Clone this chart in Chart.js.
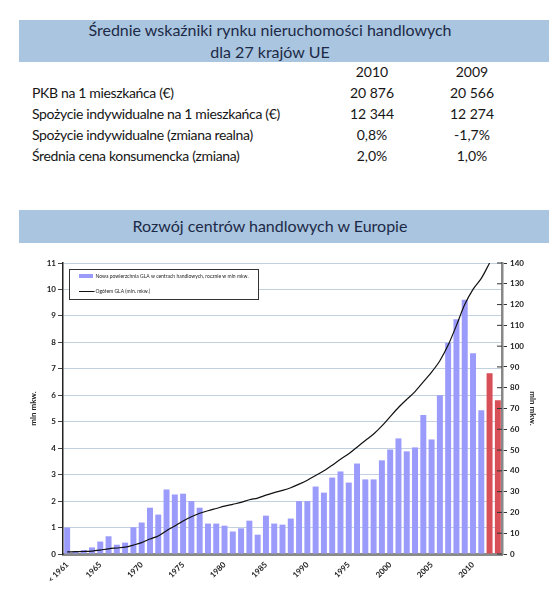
<!DOCTYPE html>
<html lang="pl">
<head>
<meta charset="utf-8">
<script src="https://cdn.jsdelivr.net/npm/chart.js@4/dist/chart.umd.min.js"></script>
<style>
  body { margin: 0; width: 549px; height: 595px; background: #fff; font-family: Lato, "Open Sans", sans-serif; position: relative; overflow: hidden; }
  .band { position: absolute; left: 19px; width: 530px; background: #a9c5df; }
  .band-title { position: absolute; left: 19px; width: 502px; text-align: center; color: #1d2a47; font-size: 16px; line-height: 21.6px; }
  .row { position: absolute; left: 32px; width: 517px; height: 21px; font-size: 14px; line-height: 21px; color: #161616; }
  .row span { position: absolute; }
  .row .lbl { left: 0; letter-spacing: -0.35px; white-space: nowrap; }
  .c1 { left: 300px; width: 80px; text-align: center; }
  .c2 { left: 400px; width: 80px; text-align: center; }
  #chart-box { position: absolute; left: 0; top: 250px; width: 549px; height: 345px; }
</style>
</head>
<body>
<div class="band" style="top:20px;height:42px"></div>
<div class="band-title" style="top:19px">Średnie wskaźniki rynku nieruchomości handlowych<br>dla 27 krajów UE</div>

<div class="row" style="top:61px"><span class="c1">2010</span><span class="c2">2009</span></div>
<div class="row" style="top:82px"><span class="lbl">PKB na 1 mieszkańca (€)</span><span class="c1">20 876</span><span class="c2">20 566</span></div>
<div class="row" style="top:103px"><span class="lbl">Spożycie indywidualne na 1 mieszkańca (€)</span><span class="c1">12 344</span><span class="c2">12 274</span></div>
<div class="row" style="top:124px"><span class="lbl">Spożycie indywidualne (zmiana realna)</span><span class="c1">0,8%</span><span class="c2">-1,7%</span></div>
<div class="row" style="top:145px"><span class="lbl">Średnia cena konsumencka (zmiana)</span><span class="c1">2,0%</span><span class="c2">1,0%</span></div>

<div class="band" style="top:210px;height:33px"></div>
<div class="band-title" style="top:215px">Rozwój centrów handlowych w Europie</div>

<div id="chart-box"><canvas id="glaChart"></canvas></div>

<script>
// Data
const years = ['< 1961', '1962', '1963', '1964', '1965', '1966', '1967', '1968', '1969', '1970',
  '1971', '1972', '1973', '1974', '1975', '1976', '1977', '1978', '1979', '1980',
  '1981', '1982', '1983', '1984', '1985', '1986', '1987', '1988', '1989', '1990',
  '1991', '1992', '1993', '1994', '1995', '1996', '1997', '1998', '1999', '2000',
  '2001', '2002', '2003', '2004', '2005', '2006', '2007', '2008', '2009', '2010',
  '2011', '2012', '2013'];
const shownYears = ['< 1961', '1965', '1970', '1975', '1980', '1985', '1990', '1995', '2000', '2005', '2010'];
const forecastYears = ['2012', '2013'];

// new GLA per year, mln sqm (left axis)
const newGla = [1.0, 0.1, 0.15, 0.25, 0.47, 0.67, 0.35, 0.43, 1.01, 1.19,
  1.75, 1.49, 2.44, 2.25, 2.28, 2.0, 1.75, 1.15, 1.15, 1.07,
  0.85, 0.97, 1.26, 0.73, 1.45, 1.15, 1.11, 1.34, 2.0, 2.0,
  2.55, 2.32, 2.89, 3.12, 2.7, 3.42, 2.82, 2.82, 3.54, 3.95,
  4.37, 3.88, 4.03, 5.25, 4.33, 6.0, 7.99, 8.87, 9.61, 7.59,
  5.43, 6.83, 5.81];

// total GLA, mln sqm (right axis)
const totalGla = [1.0, 1.1, 1.2, 1.4, 1.9, 2.5, 2.9, 3.3, 4.3, 5.5,
  7.2, 8.7, 11.2, 13.5, 15.9, 17.9, 19.6, 20.8, 21.9, 23.0,
  23.9, 24.8, 26.1, 26.9, 28.3, 29.5, 30.6, 31.9, 33.6, 35.5,
  37.8, 40.0, 42.7, 45.6, 48.2, 51.4, 54.6, 57.7, 61.6, 66.1,
  70.5, 74.4, 78.1, 82.8, 87.5, 93.0, 100.5, 110.0, 120.0, 127.3,
  132.6, 140.0, null];

const legendLabels = ['Nowa powierzchnia GLA w centrach handlowych, rocznie w mln mkw.', 'Ogółem GLA (mln. mkw.)'];

const barColor = '#9b9bfb';
const forecastColor = '#d84f57';
const tickFont = { family: 'Lato', size: 8, weight: 'bold' };

// Legend box inside the plot + inner half of right axis ticks
const extrasPlugin = {
  id: 'extras',
  afterDraw(chart) {
    const ctx = chart.ctx;
    const area = chart.chartArea;
    const x = area.left + 6.5, y = area.top + 6.5;
    ctx.save();
    ctx.fillStyle = '#fff';
    ctx.fillRect(x, y, 189, 30);
    ctx.strokeStyle = '#333';
    ctx.lineWidth = 1;
    ctx.strokeRect(x, y, 189, 30);
    ctx.fillStyle = barColor;
    ctx.fillRect(x + 9.5, y + 4.5, 14, 4);
    ctx.strokeStyle = '#111';
    ctx.beginPath();
    ctx.moveTo(x + 9.5, y + 22);
    ctx.lineTo(x + 25, y + 22);
    ctx.stroke();
    ctx.fillStyle = '#222';
    ctx.font = '5px Lato';
    ctx.textBaseline = 'middle';
    ctx.fillText(legendLabels[0], x + 26, y + 6.5);
    ctx.fillText(legendLabels[1], x + 26, y + 22);

    const right = chart.scales.y1;
    ctx.strokeStyle = '#333';
    right.ticks.forEach(t => {
      const py = right.getPixelForValue(t.value);
      ctx.beginPath();
      ctx.moveTo(right.left - 5, py);
      ctx.lineTo(right.left, py);
      ctx.stroke();
    });
    ctx.restore();
  }
};

const ctx = document.getElementById('glaChart').getContext('2d');
new Chart(ctx, {
  data: {
    labels: years,
    datasets: [
      {
        type: 'line',
        data: totalGla,
        yAxisID: 'y1',
        borderColor: '#111',
        borderWidth: 1.2,
        pointRadius: 0,
        tension: 0.3,
        order: 0
      },
      {
        type: 'bar',
        data: newGla,
        yAxisID: 'y',
        backgroundColor: c => forecastYears.includes(years[c.dataIndex]) ? forecastColor : barColor,
        barPercentage: 0.72,
        categoryPercentage: 1,
        order: 1
      }
    ]
  },
  options: {
    responsive: true,
    maintainAspectRatio: false,
    animation: false,
    layout: { padding: { top: 13, left: 25, right: 8, bottom: 0 } },
    plugins: { legend: { display: false }, tooltip: { enabled: false } },
    scales: {
      x: {
        offset: true,
        grid: { display: false, drawTicks: false },
        border: { color: '#8a8a8a', width: 3 },
        ticks: {
          autoSkip: false,
          maxRotation: 45,
          minRotation: 45,
          padding: 6,
          color: '#222',
          font: tickFont,
          callback: (v, i) => shownYears.includes(years[i]) ? years[i] : ''
        },
        afterFit: s => { s.height = 41; }
      },
      y: {
        position: 'left',
        min: 0,
        max: 11,
        ticks: { stepSize: 1, color: '#222', font: tickFont, padding: 2 },
        grid: { color: '#c3d1df', tickLength: 5, tickColor: '#444' },
        border: { color: '#222', width: 1.5 },
        title: { display: true, text: 'mln mkw.', color: '#222', font: tickFont },
        afterFit: s => { s.width = 38; }
      },
      y1: {
        position: 'right',
        min: 0,
        max: 140,
        ticks: { stepSize: 10, color: '#222', font: tickFont, padding: 3 },
        grid: { drawOnChartArea: false, tickLength: 5, tickColor: '#333' },
        border: { color: '#888', width: 2.5 },
        title: { display: true, text: 'mln mkw.', color: '#222', font: tickFont },
        afterFit: s => { s.width = 39; }
      }
    }
  },
  plugins: [extrasPlugin]
});
</script>
</body>
</html>
